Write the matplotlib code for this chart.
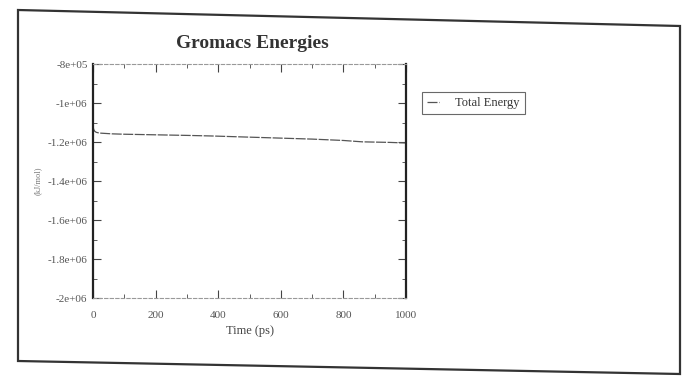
import matplotlib.pyplot as plt
from matplotlib.ticker import MultipleLocator, FuncFormatter
from matplotlib.patches import Polygon

# values
time_ps = [0, 2, 5, 10, 20, 40, 60, 100, 200, 300, 380, 500, 600, 700, 800, 860, 950, 1000]
total_energy = [-1.118e6, -1.135e6, -1.144e6, -1.150e6, -1.154e6, -1.156e6, -1.158e6, -1.160e6,
                -1.163e6, -1.166e6, -1.169e6, -1.175e6, -1.180e6, -1.185e6, -1.192e6, -1.199e6,
                -1.202e6, -1.205e6]
y_ticks = [-2e6, -1.8e6, -1.6e6, -1.4e6, -1.2e6, -1e6, -8e5]

plt.rcParams['font.family'] = ['Liberation Serif', 'DejaVu Serif']

fig = plt.figure(figsize=(6.82, 3.76), dpi=100)
ax = fig.add_axes([0.1364, 0.2074, 0.4589, 0.6223])

ax.plot(time_ps, total_energy, color='#555555', lw=0.9, dashes=(8, 1.2), label='Total Energy')

ax.set_xlim(0, 1000)
ax.set_ylim(-2e6, -8e5)
ax.xaxis.set_major_locator(MultipleLocator(200))
ax.xaxis.set_minor_locator(MultipleLocator(100))
ax.set_yticks(y_ticks)
ax.yaxis.set_minor_locator(MultipleLocator(1e5))
ax.yaxis.set_major_formatter(FuncFormatter(lambda v, p: '%.2g' % v))

ax.tick_params(which='both', direction='in', top=True, right=True, colors='#444444',
               labelsize=8, labelcolor='#555555')
ax.tick_params(axis='x', which='major', pad=9)
ax.tick_params(axis='y', which='major', pad=4)
ax.tick_params(which='major', length=6, width=0.8)
ax.tick_params(which='minor', length=3, width=0.6)

for side in ['left', 'right']:
    ax.spines[side].set_linewidth(1.6)
    ax.spines[side].set_color('#222222')
for side in ['top', 'bottom']:
    ax.spines[side].set_linewidth(0.8)
    ax.spines[side].set_color('#999999')
    ax.spines[side].set_linestyle((0, (3, 2)))

ax.set_xlabel('Time (ps)', fontsize=9, color='#444444', labelpad=4)
ax.set_ylabel('(kJ/mol)', fontsize=6, color='#777777', labelpad=4)
fig.text(0.37, 0.885, 'Gromacs Energies', ha='center', va='center',
         fontsize=14, fontweight='bold', color='#333333')

leg = fig.legend(loc='upper left', bbox_to_anchor=(0.609, 0.772), fontsize=9,
                 frameon=True, fancybox=False, handlelength=1.0, borderpad=0.4,
                 handletextpad=1.3, labelcolor='#333333')
leg.get_frame().set_edgecolor('#444444')
leg.get_frame().set_linewidth(0.8)

# scanned page border, slightly rotated
border = Polygon([(18 / 682, 1 - 10 / 376), (680 / 682, 1 - 26 / 376),
                  (680 / 682, 1 - 374 / 376), (18 / 682, 1 - 361 / 376)],
                 closed=True, fill=False, edgecolor='#333333', lw=1.6,
                 transform=fig.transFigure)
fig.patches.append(border)

plt.savefig('out.png', dpi=100)
